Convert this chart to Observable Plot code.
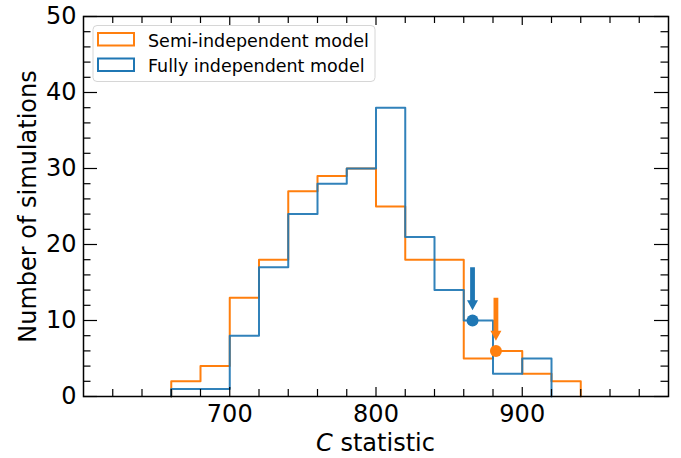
<!DOCTYPE html>
<html>
<head>
<meta charset="utf-8">
<script src="https://cdn.jsdelivr.net/npm/d3@7"></script>
<script src="https://cdn.jsdelivr.net/npm/@observablehq/plot@0.6"></script>
<style>
  body { margin: 0; background: #fff; }
  #chart { width: 681px; height: 458px; }
</style>
</head>
<body>
<div id="chart"></div>
<script>
// ---------- data ----------
const binEdges = [660, 680, 700, 720, 740, 760, 780, 800, 820, 840, 860, 880, 900, 920, 940];
const semiCounts = [2, 4, 13, 18, 27, 29, 30, 25, 18, 18, 5, 6, 3, 2];
const fullyCounts = [1, 1, 8, 17, 24, 28, 30, 38, 21, 14, 10, 3, 5];
const seriesNames = ["Semi-independent model", "Fully independent model"];
const seriesColors = ["#ff7f0e", "#1f77b4"];
const observedC = [882, 866];     // observed C statistic per model
const observedN = [6, 10];        // histogram height at the observed value
const xTickLabels = [700, 800, 900];
const yTickLabels = [0, 10, 20, 30, 40, 50];
const xLabelItalic = "C";
const xLabelRest = " statistic";
const yLabel = "Number of simulations";

// ---------- derived tables ----------
function stepPoints(counts, name) {
  const pts = [{x: binEdges[0], y: 0, model: name}];
  counts.forEach((c, i) => pts.push({x: binEdges[i], y: c, model: name}));
  pts.push({x: binEdges[counts.length], y: 0, model: name});
  return pts;
}
const semiSteps = stepPoints(semiCounts, seriesNames[0]);
const fullySteps = stepPoints(fullyCounts, seriesNames[1]);
const observed = observedC.map((c, i) => ({c, n: observedN[i], model: seriesNames[i]}));
const arrowData = [observed[1], observed[0]];

const xDomain = [600, 1000];
const yDomain = [0, 50];
const xMinor = d3.range(620, 1000, 20).filter(v => !xTickLabels.includes(v));
const yMinor = d3.range(2, 50, 2).filter(v => !yTickLabels.includes(v));

const W = 681, H = 458, mL = 83, mR = 13, mT = 16, mB = 62;
const pw = W - mL - mR, ph = H - mT - mB;
const xMajLen = 9, xMinLen = 7, yMajLen = 14, yMinLen = 7.5;

const arrowShape = {
  draw(ctx, l) {
    const sw = 2.4, hw = 5.5, hl = 10;
    ctx.moveTo(-sw, 0);
    ctx.lineTo(-sw, -(l - hl));
    ctx.lineTo(-hw, -(l - hl));
    ctx.lineTo(0, -l);
    ctx.lineTo(hw, -(l - hl));
    ctx.lineTo(sw, -(l - hl));
    ctx.lineTo(sw, 0);
    ctx.closePath();
  }
};

const tickStyle = {stroke: "black", strokeWidth: 1.2};

const plot = Plot.plot({
  width: W, height: H,
  marginLeft: mL, marginRight: mR, marginTop: mT, marginBottom: mB,
  style: {background: "white", fontFamily: "DejaVu Sans, sans-serif", overflow: "visible"},
  x: {domain: xDomain, label: null},
  y: {domain: yDomain, label: null},
  color: {domain: seriesNames, range: seriesColors},
  marks: [
    // histograms (step outlines)
    Plot.line(semiSteps, {x: "x", y: "y", curve: "step-after", stroke: seriesColors[0], strokeWidth: 2}),
    Plot.line(fullySteps, {x: "x", y: "y", curve: "step-after", stroke: seriesColors[1], strokeWidth: 2, strokeOpacity: 0.92}),
    // observed markers
    Plot.vector(arrowData, {x: "c", y: d => d.n + 7, length: 43, rotate: 180, anchor: "start",
      shape: arrowShape, fill: "model", stroke: "none"}),
    Plot.dot(observed, {x: "c", y: "n", r: 6, fill: "model", stroke: "none"}),
    // inward ticks, bottom and top
    Plot.tickX(xTickLabels, {x: d => d, insetTop: ph - xMajLen, ...tickStyle}),
    Plot.tickX(xMinor, {x: d => d, insetTop: ph - xMinLen, ...tickStyle}),
    Plot.tickX(xTickLabels, {x: d => d, insetBottom: ph - xMajLen, ...tickStyle}),
    Plot.tickX(xMinor, {x: d => d, insetBottom: ph - xMinLen, ...tickStyle}),
    // inward ticks, left and right
    Plot.tickY(yTickLabels, {y: d => d, insetRight: pw - yMajLen, ...tickStyle}),
    Plot.tickY(yMinor, {y: d => d, insetRight: pw - yMinLen, ...tickStyle}),
    Plot.tickY(yTickLabels, {y: d => d, insetLeft: pw - yMajLen, ...tickStyle}),
    Plot.tickY(yMinor, {y: d => d, insetLeft: pw - yMinLen, ...tickStyle}),
    // tick labels
    Plot.axisX(xTickLabels, {tickSize: 0, tickPadding: 8, fontSize: 24, fill: "black", label: null}),
    Plot.axisY(yTickLabels, {tickSize: 0, tickPadding: 7, fontSize: 24, fill: "black", label: null}),
    // y label
    Plot.text([yLabel], {text: d => d, frameAnchor: "left", rotate: -90, dx: -48,
      textAnchor: "middle", lineAnchor: "bottom", fontSize: 24, fill: "black"}),
    Plot.frame({stroke: "black", strokeWidth: 1.5})
  ]
});

const svg = d3.select(plot);
// x label with italic C
const xl = svg.append("text")
  .attr("x", mL + pw / 2).attr("y", 451)
  .attr("text-anchor", "middle")
  .attr("font-size", 24).attr("fill", "black")
  .attr("font-family", "DejaVu Sans, sans-serif");
xl.append("tspan").attr("font-style", "italic").text(xLabelItalic);
xl.append("tspan").text(xLabelRest);

// legend
const lg = svg.append("g").attr("font-family", "DejaVu Sans, sans-serif").attr("text-anchor", "start");
lg.append("rect").attr("x", 93).attr("y", 25.5).attr("width", 282).attr("height", 56)
  .attr("rx", 4).attr("fill", "white").attr("fill-opacity", 0.85)
  .attr("stroke", "#d6d6d6").attr("stroke-width", 1);
seriesNames.forEach((name, i) => {
  const y0 = 33 + i * 25.5;
  lg.append("rect").attr("x", 98).attr("y", y0).attr("width", 36).attr("height", 12.5)
    .attr("fill", "none").attr("stroke", seriesColors[i]).attr("stroke-width", 2);
  lg.append("text").attr("x", 148).attr("y", y0 + 13.5).attr("text-anchor", "start")
    .attr("font-size", 17.5).attr("fill", "black").text(name);
});

document.getElementById("chart").appendChild(plot);
</script>
</body>
</html>
